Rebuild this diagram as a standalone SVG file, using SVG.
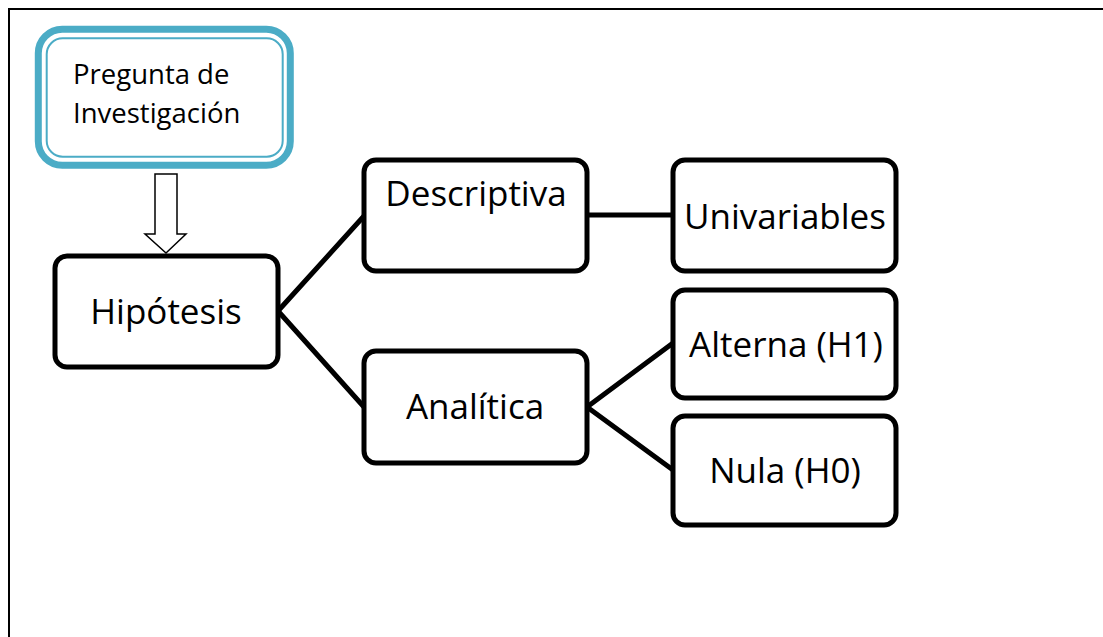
<svg xmlns="http://www.w3.org/2000/svg" width="1103" height="637" viewBox="0 0 1103 637">
<style>
.box{fill:#fff;stroke:#000;stroke-width:5}
.t{font-family:"Open Sans","Liberation Sans",sans-serif;font-size:35px;fill:#000;text-anchor:middle}
.p{font-family:"Open Sans","Liberation Sans",sans-serif;font-size:27.5px;fill:#000}
.conn line{stroke:#000;stroke-width:5;stroke-linecap:round}
</style>
<rect width="1103" height="637" fill="#fff"/>
<g id="frame">
<line x1="8" y1="9" x2="1103" y2="9" stroke="#000" stroke-width="2"/>
<line x1="9" y1="8" x2="9" y2="637" stroke="#000" stroke-width="2"/>
</g>
<g class="conn" id="connectors">
<line x1="278" y1="311" x2="364" y2="216"/>
<line x1="278" y1="311" x2="364" y2="407"/>
<line x1="587" y1="215" x2="673" y2="215"/>
<line x1="587" y1="407" x2="673" y2="343"/>
<line x1="587" y1="407" x2="673" y2="470"/>
<polygon points="155,174 177,174 177,234 186,234 166,253 145,234 155,234" fill="#fff" stroke="#000" stroke-width="1.5" stroke-linejoin="miter"/>
</g>
<g id="pregunta">
<rect x="38.3" y="29.3" width="252" height="136" rx="24" fill="#fff" stroke="#4BACC6" stroke-width="7"/>
<rect x="46.7" y="38.3" width="236" height="118.4" rx="16" fill="#fff" stroke="#4BACC6" stroke-width="2"/>
<text class="p" x="73" y="84">Pregunta de</text>
<text class="p" x="73" y="123">Investigación</text>
</g>
<g id="hipotesis">
<rect class="box" x="55" y="256" width="223" height="111" rx="12"/>
<text class="t" x="166" y="324">Hipótesis</text>
</g>
<g id="descriptiva">
<rect class="box" x="364" y="160" width="223" height="111" rx="12"/>
<text class="t" x="476" y="206">Descriptiva</text>
</g>
<g id="analitica">
<rect class="box" x="364" y="351" width="223" height="112" rx="12"/>
<text class="t" x="475" y="419">Analítica</text>
</g>
<g id="univariables">
<rect class="box" x="673" y="160" width="223" height="111" rx="12"/>
<text class="t" x="785" y="229">Univariables</text>
</g>
<g id="alterna">
<rect class="box" x="673" y="290" width="223" height="108" rx="12"/>
<text class="t" x="786" y="357">Alterna (H1)</text>
</g>
<g id="nula">
<rect class="box" x="673" y="416" width="223" height="109" rx="12"/>
<text class="t" x="785" y="483">Nula (H0)</text>
</g>
</svg>
